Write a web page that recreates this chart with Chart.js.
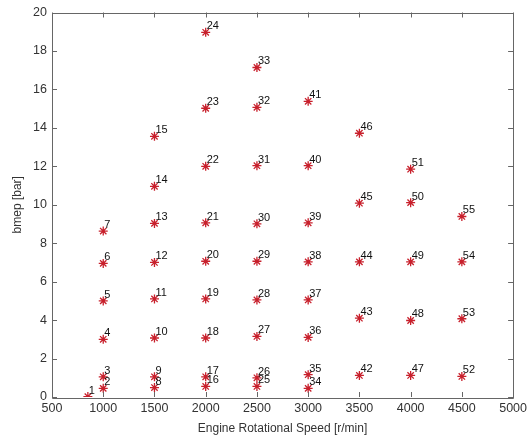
<!DOCTYPE html>
<html>
<head>
<meta charset="utf-8">
<script src="https://cdn.jsdelivr.net/npm/chart.js@4"></script>
<style>
    html, body { margin: 0; padding: 0; background: #fff; }
    #wrap { width: 531px; height: 438px; }
</style>
</head>
<body>
<div id="wrap"><canvas id="chart" width="531" height="438"></canvas></div>
<script>
// ========================================
// DATA (operating points)
// ========================================

const pointIds = [
    1, 2, 3, 4, 5, 6, 7,
    8, 9, 10, 11, 12, 13, 14, 15,
    16, 17, 18, 19, 20, 21, 22, 23, 24,
    25, 26, 27, 28, 29, 30, 31, 32, 33,
    34, 35, 36, 37, 38, 39, 40, 41,
    42, 43, 44, 45, 46,
    47, 48, 49, 50, 51,
    52, 53, 54, 55
];
const speeds = [
    850, 1000, 1000, 1000, 1000, 1000, 1000,
    1500, 1500, 1500, 1500, 1500, 1500, 1500, 1500,
    2000, 2000, 2000, 2000, 2000, 2000, 2000, 2000, 2000,
    2500, 2500, 2500, 2500, 2500, 2500, 2500, 2500, 2500,
    3000, 3000, 3000, 3000, 3000, 3000, 3000, 3000,
    3500, 3500, 3500, 3500, 3500,
    4000, 4000, 4000, 4000, 4000,
    4500, 4500, 4500, 4500
];
const bmep = [
    0.02, 0.45, 1.05, 3.0, 5.0, 6.95, 8.63,
    0.49, 1.05, 3.07, 5.1, 7.0, 9.03, 10.96, 13.56,
    0.55, 1.05, 3.07, 5.1, 7.06, 9.06, 12.0, 15.02, 18.97,
    0.55, 1.0, 3.15, 5.05, 7.06, 9.01, 12.03, 15.07, 17.14,
    0.45, 1.16, 3.1, 5.05, 7.03, 9.06, 12.03, 15.38,
    1.12, 4.1, 7.03, 10.08, 13.72,
    1.12, 3.98, 7.03, 10.11, 11.85,
    1.07, 4.07, 7.03, 9.39
];
const xTicks = [500, 1000, 1500, 2000, 2500, 3000, 3500, 4000, 4500, 5000];
const yTicks = [0, 2, 4, 6, 8, 10, 12, 14, 16, 18, 20];

const FONT = 'Liberation Sans, Arial, sans-serif';

// ========================================
// PLUGINS
// ========================================

// MATLAB-style box with inward ticks on all four sides
const boxPlugin = {
    id: 'boxTicks',
    afterDraw(chart) {
        const { ctx, chartArea: a, scales } = chart;
        ctx.save();
        ctx.strokeStyle = '#666';
        ctx.lineWidth = 1;
        ctx.beginPath();
        ctx.rect(Math.round(a.left) + 0.5, Math.round(a.top) + 0.5,
                 Math.round(a.right - a.left), Math.round(a.bottom - a.top));
        const len = 5;
        xTicks.forEach(v => {
            const px = Math.round(scales.x.getPixelForValue(v)) + 0.5;
            ctx.moveTo(px, a.bottom); ctx.lineTo(px, a.bottom - len);
            ctx.moveTo(px, a.top); ctx.lineTo(px, a.top + len);
        });
        yTicks.forEach(v => {
            const py = Math.round(scales.y.getPixelForValue(v)) + 0.5;
            ctx.moveTo(a.left, py); ctx.lineTo(a.left + len, py);
            ctx.moveTo(a.right, py); ctx.lineTo(a.right - len, py);
        });
        ctx.stroke();
        ctx.restore();
    }
};

// number next to each point
const labelPlugin = {
    id: 'pointLabels',
    afterDatasetsDraw(chart) {
        const { ctx, scales } = chart;
        ctx.save();
        ctx.fillStyle = '#111';
        ctx.font = '11px ' + FONT;
        ctx.textAlign = 'left';
        ctx.textBaseline = 'alphabetic';
        pointIds.forEach((id, i) => {
            const px = scales.x.getPixelForValue(speeds[i]);
            const py = scales.y.getPixelForValue(bmep[i]);
            ctx.fillText(String(id), px + 1, py - 3);
        });
        ctx.restore();
    }
};

// ========================================
// CHART
// ========================================

new Chart(document.getElementById('chart'), {
    type: 'scatter',
    data: {
        datasets: [{
            data: speeds.map((s, i) => ({ x: s, y: bmep[i] })),
            pointStyle: 'star',
            radius: 4.5,
            borderColor: '#c8202c',
            backgroundColor: '#c8202c',
            borderWidth: 1.3
        }]
    },
    options: {
        responsive: false,
        animation: false,
        layout: { padding: { top: 10, right: 15, left: 0, bottom: 0 } },
        plugins: {
            legend: { display: false },
            tooltip: { enabled: false }
        },
        scales: {
            x: {
                type: 'linear',
                min: 500,
                max: 5000,
                afterBuildTicks(axis) { axis.ticks = xTicks.map(v => ({ value: v })); },
                afterFit(axis) { axis.height = 41; },
                grid: { display: false, drawTicks: false },
                border: { display: false },
                ticks: {
                    color: '#333',
                    font: { family: FONT, size: 12.5 },
                    padding: 4,
                    maxRotation: 0,
                    callback: v => String(v)
                },
                title: {
                    display: true,
                    text: 'Engine Rotational Speed [r/min]',
                    color: '#333',
                    font: { family: FONT, size: 12 },
                    padding: { top: 0, bottom: 2 }
                }
            },
            y: {
                type: 'linear',
                min: 0,
                max: 20,
                afterBuildTicks(axis) { axis.ticks = yTicks.map(v => ({ value: v })); },
                afterFit(axis) { axis.width = 52; },
                grid: { display: false, drawTicks: false },
                border: { display: false },
                ticks: {
                    color: '#333',
                    font: { family: FONT, size: 12.5 },
                    padding: 5,
                    callback: v => String(v)
                },
                title: {
                    display: true,
                    text: 'bmep [bar]',
                    color: '#333',
                    font: { family: FONT, size: 12 },
                    padding: { top: 10, bottom: 4 }
                }
            }
        }
    },
    plugins: [boxPlugin, labelPlugin]
});
</script>
</body>
</html>
